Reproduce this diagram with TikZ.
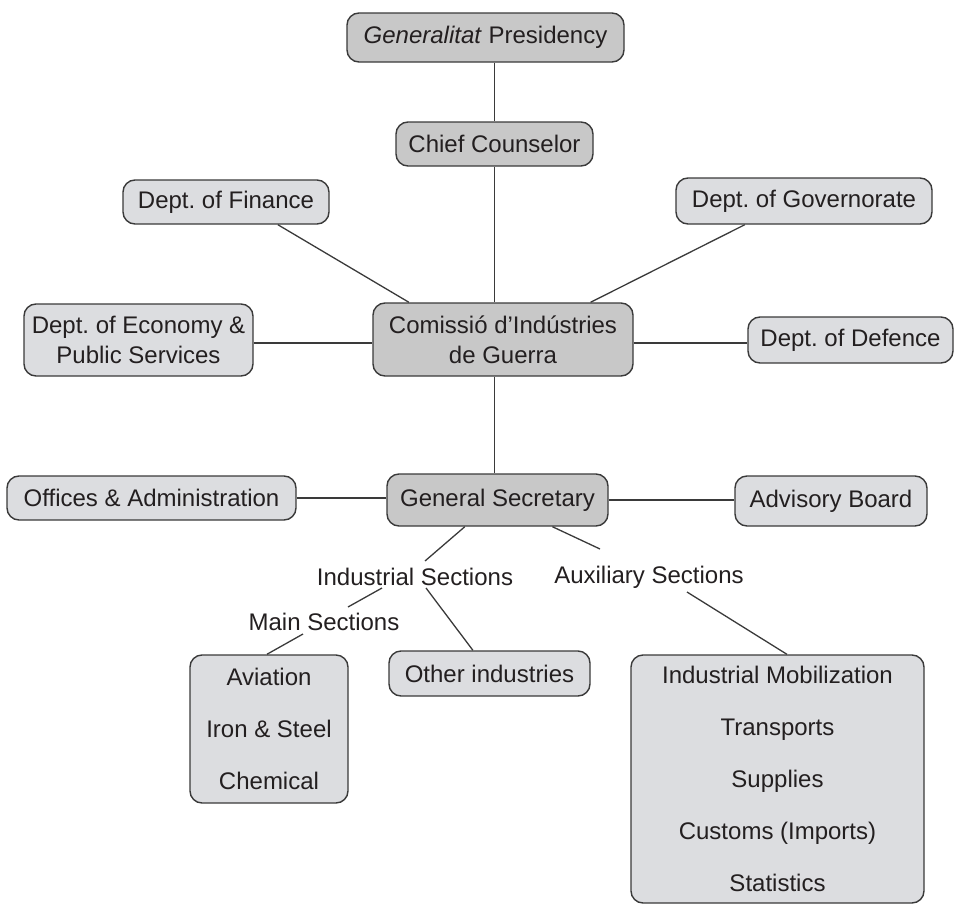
\documentclass[tikz,border=0pt]{standalone}
\usepackage{fontspec}
\setmainfont{Liberation Sans}
\usetikzlibrary{calc}
\definecolor{darkfill}{HTML}{C8C8C8}
\definecolor{lightfill}{HTML}{DCDDE0}
\definecolor{ink}{HTML}{231F20}
\definecolor{edgecol}{HTML}{3A3A3A}
\frenchspacing
\begin{document}
\begin{tikzpicture}[x=1pt,y=-1pt,
 box/.style={draw=edgecol, line width=1.4pt, rounded corners=12pt, inner sep=0pt, align=center, text=ink, font=\fontsize{24}{30}\selectfont},
 dbox/.style={box, fill=darkfill},
 lbox/.style={box, fill=lightfill},
 listbox/.style={lbox, font=\fontsize{24}{52}\selectfont},
 lab/.style={inner sep=0pt, text=ink, font=\fontsize{24}{30}\selectfont},
 conn/.style={draw=edgecol, line width=1.3pt}]
\useasboundingbox (0,0) rectangle (954,905);

\node[dbox, minimum width=277pt, minimum height=49pt] (pres) at (485.5,37.5) {\textit{Generalitat} Presidency};
\node[dbox, minimum width=197pt, minimum height=44pt] (chief) at (494.5,144) {Chief Counselor};
\node[lbox, minimum width=206pt, minimum height=44pt] (fin) at (226,202) {Dept. of Finance};
\node[lbox, minimum width=256pt, minimum height=46pt] (gov) at (804,201) {Dept. of Governorate};
\node[lbox, minimum width=229pt, minimum height=72pt] (eco) at (138.5,340) {Dept. of Economy \&\\Public Services};
\node[dbox, minimum width=260pt, minimum height=73pt] (com) at (503,339.5) {Comissió d’Indústries\\de Guerra};
\node[lbox, minimum width=205pt, minimum height=46pt] (def) at (850.5,340) {Dept. of Defence};
\node[lbox, minimum width=289pt, minimum height=44pt] (off) at (151.5,498) {Offices \& Administration};
\node[dbox, minimum width=221pt, minimum height=52pt] (gs) at (497.5,500) {General Secretary};
\node[lbox, minimum width=192pt, minimum height=50pt] (adv) at (831,501) {Advisory Board};
\node[lab] (ind) at (415,577) {Industrial Sections};
\node[lab] (auxl) at (649,577) {Auxiliary Sections};
\node[lab] (main) at (324,622) {Main Sections};
\node[listbox, minimum width=158pt, minimum height=148pt] (avi) at (269,729) {Aviation\\Iron \& Steel\\Chemical};
\node[lbox, minimum width=201pt, minimum height=45pt] (oth) at (489.5,673.5) {Other industries};
\node[listbox, minimum width=293pt, minimum height=248pt] (auxb) at (777.5,779) {Industrial Mobilization\\Transports\\Supplies\\Customs (Imports)\\Statistics};

\draw[conn] (pres.south -| chief.north) -- (chief.north);
\draw[conn] (chief.south) -- (chief.south |- com.north);
\draw[conn] (com.south -| chief.south) -- (gs.north -| chief.south);
\draw[conn] ($(fin.south west)!0.75!(fin.south east)$) -- ($(com.north west)!0.14!(com.north east)$);
\draw[conn] ($(gov.south west)!0.27!(gov.south east)$) -- ($(com.north west)!0.835!(com.north east)$);
\draw[conn] ($(eco.east)+(0,3)$) -- ($(com.west)+(0,3.5)$);
\draw[conn] ($(com.east)+(0,3.5)$) -- ($(def.west)+(0,3)$);
\draw[conn] (off.east) -- (off.east -| gs.west);
\draw[conn] (gs.east) -- (gs.east -| adv.west);
\draw[conn] ($(gs.south west)!0.353!(gs.south east)$) -- ($(ind.center)+(10,-16)$);
\draw[conn] ($(gs.south west)!0.747!(gs.south east)$) -- ($(auxl.center)+(-49,-28)$);
\draw[conn] ($(ind.center)+(-33,11)$) -- ($(main.center)+(24,-15)$);
\draw[conn] ($(ind.center)+(11,11)$) -- ($(oth.north west)!0.418!(oth.north east)$);
\draw[conn] ($(main.center)+(-21,12)$) -- ($(avi.north west)!0.487!(avi.north east)$);
\draw[conn] ($(auxl.center)+(38,15)$) -- ($(auxb.north west)!0.532!(auxb.north east)$);
\end{tikzpicture}
\end{document}
